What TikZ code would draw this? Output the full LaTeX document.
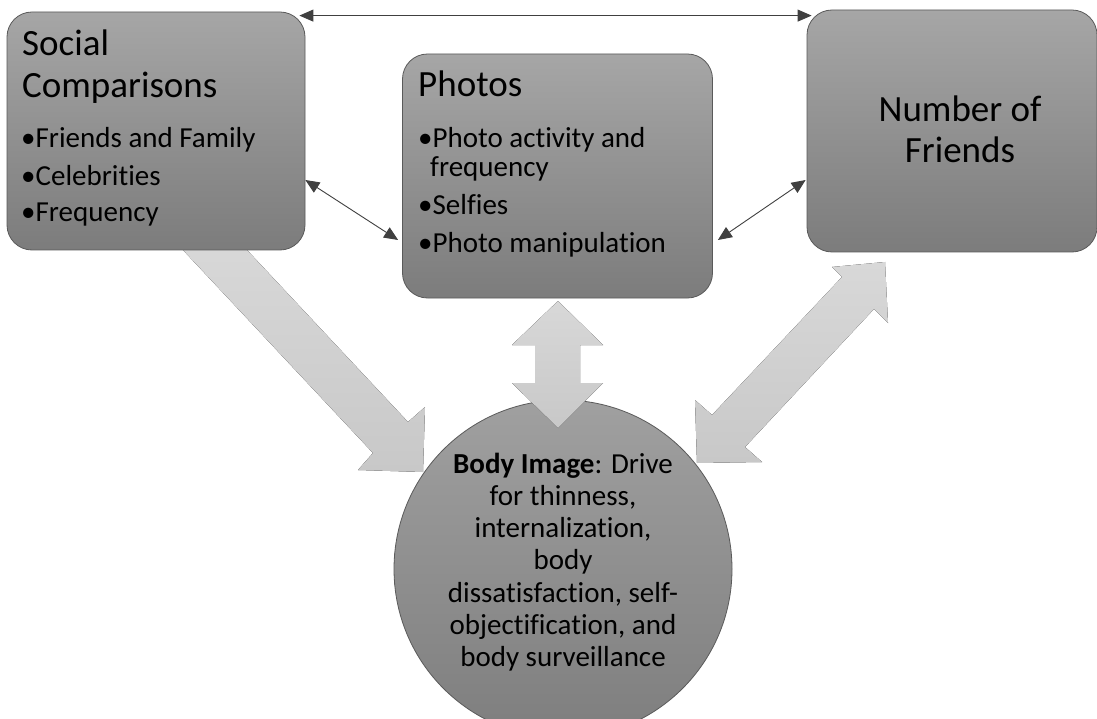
\documentclass[tikz,border=0pt]{standalone}
\usepackage{fontspec}
\setmainfont{Carlito}[Ligatures={NoCommon}]
\usetikzlibrary{arrows.meta,calc}
\definecolor{boxtop}{HTML}{A6A6A6}
\definecolor{boxbot}{HTML}{7C7C7C}
\definecolor{boxline}{HTML}{5A5A5A}
\definecolor{circtop}{HTML}{A0A0A0}
\definecolor{circbot}{HTML}{7E7E7E}
\definecolor{bigtop}{HTML}{D8D8D8}
\definecolor{bigbot}{HTML}{C8C8C8}
\definecolor{conn}{HTML}{404040}
\tikzset{
  box/.style={draw=boxline, line width=0.8pt, rounded corners=25pt, top color=boxtop, bottom color=boxbot, inner sep=0pt},
  bigarrow/.style={top color=bigtop, bottom color=bigbot, draw=none},
  thinconn/.style={draw=conn, line width=0.9pt, {Triangle[length=14pt,width=12pt]}-{Triangle[length=14pt,width=12pt]}},
  titletext/.style={font=\fontsize{37}{40}\selectfont, inner sep=0pt, anchor=base west},
  bullettext/.style={font=\fontsize{29}{31}\selectfont, inner sep=0pt, anchor=base west},
  circtext/.style={font=\fontsize{29}{31}\selectfont, inner sep=0pt, anchor=base},
}
\begin{document}
\begin{tikzpicture}[x=1pt,y=-1pt]
\useasboundingbox (0,0) rectangle (1097,719);
\fill[white] (0,0) rectangle (1097,719);
% circle
\begin{scope}
\clip (0,0) rectangle (1097,719);
\node[circle, draw=boxline, line width=0.8pt, top color=circtop, bottom color=circbot, minimum size=338pt, inner sep=0pt] (bi) at (563,569) {};
\end{scope}
% big arrows
\fill[bigarrow] (173.6,240) -- (373,453) -- (358,470) -- (423,472) -- (425,407) -- (408,422) -- (237.6,240) -- cycle;
\fill[bigarrow] (558,301) -- (603,345) -- (580,345) -- (580,383) -- (603,383) -- (558,428) -- (512,383) -- (535,383) -- (535,345) -- (512,345) -- cycle;
\fill[bigarrow] (697,463) -- (695,400) -- (712,415) -- (842,277) -- (832,267) -- (885,262) -- (888,323) -- (874,309) -- (745,447) -- (762,462) -- cycle;
% boxes
\node[box, minimum width=298pt, minimum height=238pt] (sc) at (156,131) {};
\node[box, minimum width=310pt, minimum height=244pt] (ph) at (557.5,176) {};
\node[box, minimum width=290pt, minimum height=242pt] (nf) at (952,131) {};
% texts left
\node[titletext] (sc1) at (22,56) {Social};
\node[titletext] (sc2) at (22,98) {Comparisons};
\node[bullettext] (sc3) at (21,148) {•Friends and Family};
\node[bullettext] (sc4) at (21,186) {•Celebrities};
\node[bullettext] (sc5) at (21,222) {•Frequency};
% texts middle
\node[titletext] (ph1) at (418,97) {Photos};
\node[bullettext] (ph2) at (418,148) {•Photo activity and};
\node[bullettext] (ph3) at (430,177) {frequency};
\node[bullettext] (ph4) at (418,215) {•Selfies};
\node[bullettext] (ph5) at (418,253) {•Photo manipulation};
% texts right
\node[titletext, anchor=base] (nf1) at (960,122) {Number of};
\node[titletext, anchor=base] (nf2) at (960,163) {Friends};
% circle text
\node[circtext] (bt1) at (563,473) {\textbf{Body Image}: Drive};
\node[circtext] (bt2) at (563,505) {for thinness,};
\node[circtext] (bt3) at (563,537) {internalization,};
\node[circtext] (bt4) at (563,569) {body};
\node[circtext] (bt5) at (563,602) {dissatisfaction, self-};
\node[circtext] (bt6) at (563,634) {objectification, and};
\node[circtext] (bt7) at (563,666) {body surveillance};
% thin connectors
\draw[thinconn] ($(sc.north east)+(-6,4)$) -- ($(nf.north west)+(5,6)$);
\draw[thinconn] ($(sc.east)+(0,49)$) -- ($(ph.west)+(-4,64)$);
\draw[thinconn] ($(ph.east)+(5,64)$) -- ($(nf.west)+(-1,49)$);
\end{tikzpicture}
\end{document}
